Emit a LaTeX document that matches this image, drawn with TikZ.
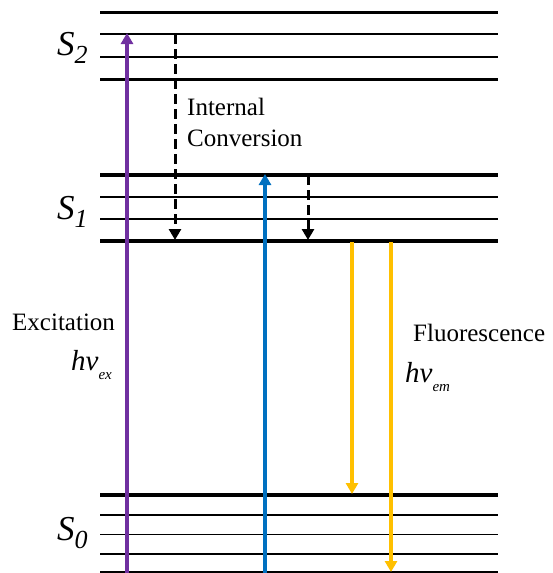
\documentclass[tikz,border=0pt]{standalone}
\usepackage{fontspec}
\setmainfont{Liberation Serif}
\usetikzlibrary{arrows.meta}
\definecolor{excite}{HTML}{7030A0}
\definecolor{absorb}{HTML}{0070C0}
\definecolor{emit}{HTML}{FFC000}

\begin{document}
\begin{tikzpicture}[x=1pt, y=-1pt, >={Triangle[width=12pt,length=11pt]},
    level/.style={line width=3.3pt},
    sublevel/.style={line width=1.7pt},
    photon/.style={line width=3.5pt, ->},
    relax/.style={line width=3pt, ->, dash pattern=on 10pt off 5pt},
    txt/.style={font=\fontsize{25}{30}\selectfont, inner sep=0pt, anchor=base west},
    state/.style={font=\fontsize{35}{35}\selectfont\itshape, inner sep=0pt, anchor=base west}]
    \useasboundingbox (0,0) rectangle (553,573);

    % S2 levels
    \draw[level] (100,12.7) -- (498,12.7);
    \foreach \y in {34.3, 56.7} \draw[sublevel] (100,\y) -- (498,\y);
    \draw[level] (100,79.3) -- (498,79.3);

    % S1 levels
    \draw[level] (100,175) -- (498,175);
    \foreach \y in {197, 219} \draw[sublevel] (100,\y) -- (498,\y);
    \draw[level] (100,241) -- (498,241);

    % S0 levels
    \draw[level] (100,495) -- (498,495);
    \foreach \y in {515, 534.5, 554, 572} \draw[sublevel] (100,\y) -- (498,\y);

    % State labels
    \node[state] (s2) at (57,55) {S\raisebox{-8pt}{\fontsize{26}{26}\selectfont 2}};
    \node[state] (s1) at (57,219) {S\raisebox{-8pt}{\fontsize{26}{26}\selectfont 1}};
    \node[state] (s0) at (57,540) {S\raisebox{-8pt}{\fontsize{26}{26}\selectfont 0}};

    % Arrow ends
    \coordinate (ex0) at (127,573);  \coordinate (ex1) at (127,33);
    \coordinate (ab0) at (265,573);  \coordinate (ab1) at (265,174);
    \coordinate (ica) at (175,34);   \coordinate (icb) at (175,240);
    \coordinate (icc) at (308,175);  \coordinate (icd) at (308,240);
    \coordinate (fla) at (352,242);  \coordinate (flb) at (352,494);
    \coordinate (flc) at (391,242);  \coordinate (fld) at (391,572);

    % Excitation
    \draw[photon, excite] (ex0) -- (ex1);
    \draw[photon, absorb] (ab0) -- (ab1);

    % Internal conversion
    \draw[relax] (ica) -- (icb);
    \draw[relax] (icc) -- (icd);

    % Fluorescence
    \draw[photon, emit] (fla) -- (flb);
    \draw[photon, emit] (flc) -- (fld);

    % Texts
    \node[txt] (ic) at (187,115) {Internal};
    \node[txt] (ic2) at (187,146) {Conversion};
    \node[txt] (exc) at (12,330) {Excitation};
    \node[txt, font=\fontsize{29}{29}\selectfont\itshape] (hex) at (71,370)
        {hν\raisebox{-9pt}{\fontsize{15}{15}\selectfont ex}};
    \node[txt] (flu) at (413,341) {Fluorescence};
    \node[txt, font=\fontsize{29}{29}\selectfont\itshape] (hem) at (405,382)
        {hν\raisebox{-9pt}{\fontsize{15}{15}\selectfont em}};
\end{tikzpicture}
\end{document}
